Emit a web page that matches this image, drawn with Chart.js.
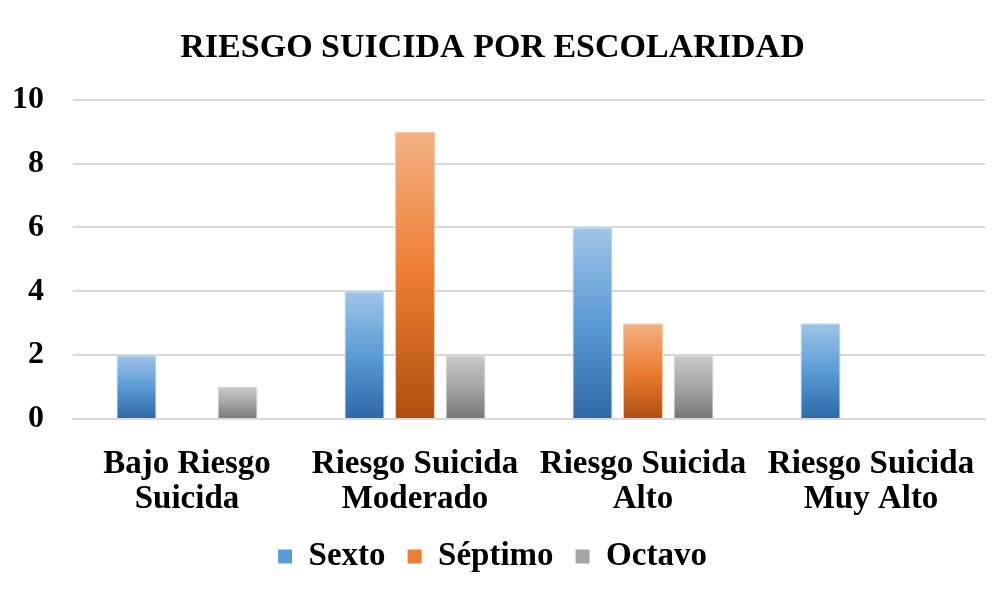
<!DOCTYPE html>
<html>
<head>
<meta charset="utf-8">
<script src="https://cdn.jsdelivr.net/npm/chart.js@4/dist/chart.umd.min.js"></script>
<style>
    html, body { margin: 0; padding: 0; background: #fff; }
    #wrap { width: 1000px; height: 591px; }
</style>
</head>
<body>
<div id="wrap"><canvas id="riesgo"></canvas></div>
<script>
const categories = [['Bajo Riesgo', 'Suicida'], ['Riesgo Suicida', 'Moderado'], ['Riesgo Suicida', 'Alto'], ['Riesgo Suicida', 'Muy Alto']];
const sexto = [2, 4, 6, 3];
const septimo = [0, 9, 3, 0];
const octavo = [1, 2, 2, 0];
const yTicks = [0, 2, 4, 6, 8, 10];

// top / middle / bottom colours of each bar gradient
const shades = {
    sexto: ['#9fc5e8', '#5b9bd5', '#2c68a6'],
    septimo: ['#f4b183', '#ed7d31', '#ad4f0f'],
    octavo: ['#cacaca', '#a5a5a5', '#777777']
};

function barFill(name) {
    return function (context) {
        let chart = context.chart;
        let y = chart.scales.y;
        if (!chart.chartArea || !y || context.parsed === undefined) {
            return shades[name][1];
        }
        let top = y.getPixelForValue(context.parsed.y);
        let base = y.getPixelForValue(0);
        if (!isFinite(top) || top === base) {
            return shades[name][1];
        }
        let g = chart.ctx.createLinearGradient(0, top, 0, base);
        g.addColorStop(0, shades[name][0]);
        g.addColorStop(0.5, shades[name][1]);
        g.addColorStop(1, shades[name][2]);
        return g;
    };
}

const serif = "'Liberation Serif', 'Times New Roman', serif";

let ctx = document.getElementById('riesgo').getContext('2d');
let chart = new Chart(ctx, {
    type: 'bar',
    data: {
        labels: categories,
        datasets: [
            {label: 'Sexto', data: sexto, backgroundColor: barFill('sexto'), borderColor: '#b5d3ee', borderWidth: 1},
            {label: 'Séptimo', data: septimo, backgroundColor: barFill('septimo'), borderColor: '#f6c4a0', borderWidth: 1},
            {label: 'Octavo', data: octavo, backgroundColor: barFill('octavo'), borderColor: '#d6d6d6', borderWidth: 1}
        ]
    },
    options: {
        responsive: true,
        maintainAspectRatio: false,
        animation: false,
        layout: {padding: {left: 0, right: 15, top: 28, bottom: 8}},
        datasets: {bar: {barPercentage: 0.79, categoryPercentage: 0.665}},
        plugins: {
            title: {
                display: true,
                text: 'RIESGO SUICIDA POR ESCOLARIDAD',
                color: '#000',
                font: {family: serif, size: 34, weight: 'bold', lineHeight: 1.2},
                padding: {top: 0, bottom: 31}
            },
            legend: {
                position: 'bottom',
                labels: {
                    color: '#000',
                    font: {family: serif, size: 33, weight: 'bold'},
                    boxWidth: 14,
                    boxHeight: 14,
                    padding: 22,
                    generateLabels: function (c) {
                        let names = ['sexto', 'septimo', 'octavo'];
                        return c.data.datasets.map(function (ds, i) {
                            return {
                                text: ds.label,
                                fillStyle: shades[names[i]][1],
                                strokeStyle: shades[names[i]][1],
                                lineWidth: 0,
                                datasetIndex: i,
                                fontColor: '#000'
                            };
                        });
                    }
                }
            },
            tooltip: {enabled: false}
        },
        scales: {
            x: {
                afterFit: function (scale) { scale.height -= 19; },
                grid: {display: false},
                border: {color: '#d9d9d9', width: 2},
                ticks: {
                    color: '#000',
                    font: {family: serif, size: 33, weight: 'bold', lineHeight: 1.06},
                    maxRotation: 0,
                    autoSkip: false,
                    padding: 20
                }
            },
            y: {
                min: 0,
                max: 10,
                afterFit: function (scale) { scale.width = 73; },
                afterBuildTicks: function (scale) {
                    scale.ticks = yTicks.map(function (v) { return {value: v}; });
                },
                grid: {color: '#d9d9d9', lineWidth: 2, drawTicks: false},
                border: {display: false},
                ticks: {
                    color: '#000',
                    font: {family: serif, size: 32, weight: 'bold'},
                    padding: 29
                }
            }
        }
    }
});
</script>
</body>
</html>
